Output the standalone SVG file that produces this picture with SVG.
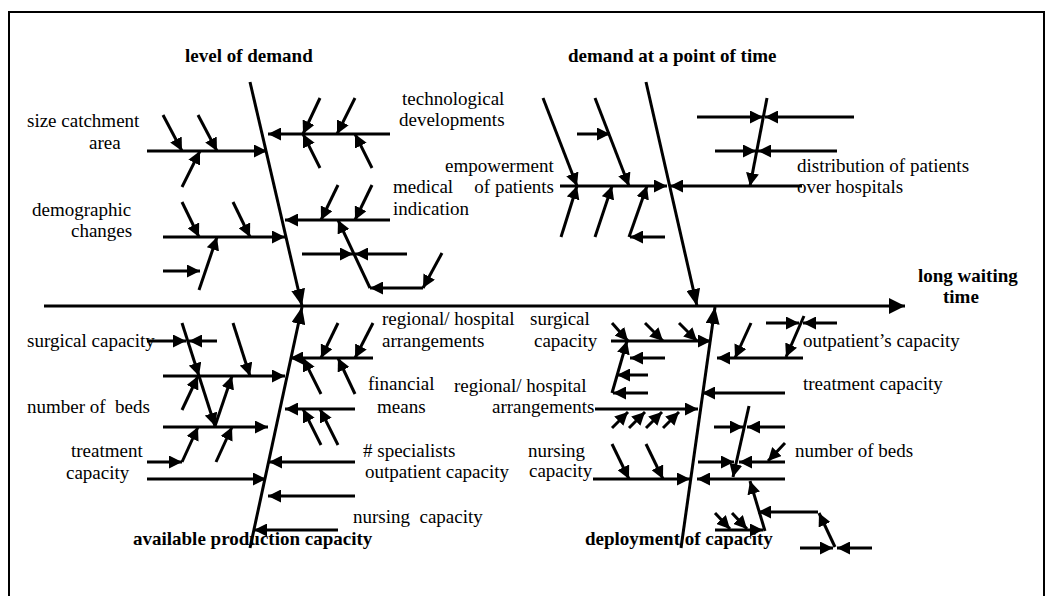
<svg xmlns="http://www.w3.org/2000/svg" width="1057" height="596" viewBox="0 0 1057 596">
<defs>
<style>
.l{stroke:#000;stroke-width:3;fill:none;marker-end:url(#a)}
.b{stroke:#000;stroke-width:3;fill:none;marker-end:url(#big)}
.s{stroke:#000;stroke-width:3;fill:none;marker-end:url(#sp)}
text{font-family:"Liberation Serif","Times New Roman",serif;font-size:19px;fill:#000;white-space:pre}
.h{font-weight:bold}
</style>
<marker id="a" markerUnits="userSpaceOnUse" markerWidth="13" markerHeight="13" refX="13" refY="6.5" orient="auto"><path d="M0,0 L13,6.5 L0,13 z" fill="#000"/></marker>
<marker id="big" markerUnits="userSpaceOnUse" markerWidth="17" markerHeight="14" refX="17" refY="7" orient="auto"><path d="M0,0 L17,7 L0,14 z" fill="#000"/></marker>
<marker id="sp" markerUnits="userSpaceOnUse" markerWidth="16" markerHeight="16" refX="16" refY="8" orient="auto"><path d="M0,0 L16,8 L0,16 z" fill="#000"/></marker>
</defs>
<rect x="0" y="0" width="1057" height="596" fill="#fff"/>
<rect x="9" y="12" width="1035" height="600" fill="none" stroke="#000" stroke-width="2"/>
<g id="connectors">
<line class="s" x1="44" y1="306" x2="905" y2="306"/>
<!-- level of demand -->
<line class="b" x1="250" y1="82" x2="302" y2="306"/>
<line class="l" x1="147" y1="151" x2="267" y2="151"/>
<line class="l" x1="163" y1="115" x2="182" y2="151"/>
<line class="l" x1="198" y1="115" x2="217" y2="151"/>
<line class="l" x1="182" y1="187" x2="200" y2="151"/>
<line class="l" x1="163" y1="237" x2="285" y2="237"/>
<line class="l" x1="182" y1="202" x2="199" y2="237"/>
<line class="l" x1="233" y1="202" x2="250" y2="237"/>
<line class="l" x1="199" y1="290" x2="217" y2="237"/>
<line class="l" x1="163" y1="271" x2="200" y2="271"/>
<line class="l" x1="390" y1="134" x2="268" y2="134"/>
<line class="l" x1="320" y1="98" x2="303" y2="134"/>
<line class="l" x1="355" y1="98" x2="337" y2="134"/>
<line class="l" x1="320" y1="168" x2="303" y2="134"/>
<line class="l" x1="372" y1="168" x2="355" y2="134"/>
<line class="l" x1="390" y1="220" x2="285" y2="220"/>
<line class="l" x1="338" y1="185" x2="321" y2="220"/>
<line class="l" x1="372" y1="185" x2="355" y2="220"/>
<line class="l" x1="442" y1="253" x2="423" y2="288"/>
<line class="l" x1="423" y1="288" x2="370" y2="288"/>
<line class="l" x1="370" y1="288" x2="338" y2="220"/>
<line class="l" x1="302" y1="254" x2="353" y2="254"/>
<line class="l" x1="407" y1="254" x2="355" y2="254"/>
<!-- demand at a point of time -->
<line class="b" x1="646" y1="82" x2="697" y2="306"/>
<line class="l" x1="560" y1="186" x2="667" y2="186"/>
<line class="l" x1="543" y1="98" x2="577" y2="186"/>
<line class="l" x1="595" y1="98" x2="629" y2="186"/>
<line class="l" x1="577" y1="134" x2="610" y2="134"/>
<line class="l" x1="561" y1="237" x2="577" y2="186"/>
<line class="l" x1="595" y1="237" x2="612" y2="186"/>
<line class="l" x1="629" y1="237" x2="647" y2="186"/>
<line class="l" x1="665" y1="237" x2="630" y2="237"/>
<line class="l" x1="802" y1="186" x2="670" y2="186"/>
<line class="l" x1="767" y1="98" x2="750" y2="186"/>
<line class="l" x1="697" y1="117" x2="763" y2="117"/>
<line class="l" x1="854" y1="117" x2="765" y2="117"/>
<line class="l" x1="715" y1="151" x2="756" y2="151"/>
<line class="l" x1="837" y1="151" x2="758" y2="151"/>
<!-- available production capacity -->
<line class="b" x1="250" y1="548" x2="302" y2="307"/>
<line class="l" x1="147" y1="341" x2="186" y2="341"/>
<line class="l" x1="217" y1="341" x2="189" y2="341"/>
<line class="l" x1="182" y1="323" x2="199" y2="376"/>
<line class="l" x1="199" y1="376" x2="215" y2="426"/>
<line class="l" x1="163" y1="376" x2="285" y2="376"/>
<line class="l" x1="233" y1="323" x2="250" y2="376"/>
<line class="l" x1="182" y1="410" x2="198" y2="376"/>
<line class="l" x1="215" y1="426" x2="232" y2="376"/>
<line class="l" x1="163" y1="427" x2="268" y2="427"/>
<line class="l" x1="182" y1="462" x2="198" y2="427"/>
<line class="l" x1="216" y1="462" x2="232" y2="427"/>
<line class="l" x1="147" y1="462" x2="182" y2="462"/>
<line class="l" x1="147" y1="479" x2="266" y2="479"/>
<line class="l" x1="373" y1="358" x2="290" y2="358"/>
<line class="l" x1="338" y1="323" x2="321" y2="358"/>
<line class="l" x1="373" y1="323" x2="355" y2="358"/>
<line class="l" x1="321" y1="394" x2="303" y2="358"/>
<line class="l" x1="355" y1="394" x2="338" y2="358"/>
<line class="l" x1="355" y1="409" x2="285" y2="409"/>
<line class="l" x1="321" y1="445" x2="303" y2="409"/>
<line class="l" x1="338" y1="445" x2="320" y2="409"/>
<line class="l" x1="355" y1="462" x2="269" y2="462"/>
<line class="l" x1="355" y1="496" x2="268" y2="496"/>
<line class="l" x1="338" y1="530" x2="254" y2="530"/>
<!-- deployment of capacity -->
<line class="b" x1="681" y1="548" x2="715" y2="307"/>
<line class="l" x1="611" y1="341" x2="711" y2="341"/>
<line class="l" x1="612" y1="323" x2="628" y2="341"/>
<line class="l" x1="645" y1="323" x2="663" y2="341"/>
<line class="l" x1="679" y1="323" x2="697" y2="341"/>
<line class="l" x1="612" y1="393" x2="627" y2="341"/>
<line class="l" x1="665" y1="358" x2="630" y2="358"/>
<line class="l" x1="648" y1="375" x2="617" y2="375"/>
<line class="l" x1="648" y1="393" x2="613" y2="393"/>
<line class="l" x1="595" y1="409" x2="698" y2="409"/>
<line class="l" x1="612" y1="428" x2="628" y2="412"/>
<line class="l" x1="629" y1="428" x2="645" y2="412"/>
<line class="l" x1="646" y1="428" x2="662" y2="412"/>
<line class="l" x1="663" y1="428" x2="679" y2="412"/>
<line class="l" x1="593" y1="479" x2="690" y2="479"/>
<line class="l" x1="612" y1="444" x2="629" y2="479"/>
<line class="l" x1="646" y1="444" x2="663" y2="479"/>
<line class="l" x1="803" y1="358" x2="717" y2="358"/>
<line class="l" x1="751" y1="323" x2="735" y2="358"/>
<line class="l" x1="766" y1="323" x2="799" y2="323"/>
<line class="l" x1="837" y1="323" x2="803" y2="323"/>
<line class="l" x1="804" y1="316" x2="786" y2="357"/>
<line class="l" x1="785" y1="393" x2="702" y2="393"/>
<line class="l" x1="714" y1="427" x2="743" y2="427"/>
<line class="l" x1="785" y1="427" x2="747" y2="427"/>
<line class="l" x1="749" y1="406" x2="733" y2="477"/>
<line class="l" x1="698" y1="462" x2="734" y2="462"/>
<line class="l" x1="785" y1="462" x2="739" y2="462"/>
<line class="l" x1="785" y1="443" x2="768" y2="461"/>
<line class="l" x1="785" y1="479" x2="697" y2="479"/>
<line class="l" x1="765" y1="531" x2="750" y2="481"/>
<line class="l" x1="818" y1="512" x2="758" y2="512"/>
<line class="l" x1="835" y1="547" x2="819" y2="513"/>
<line class="l" x1="800" y1="548" x2="833" y2="548"/>
<line class="l" x1="872" y1="548" x2="837" y2="548"/>
<line class="l" x1="715" y1="530" x2="763" y2="530"/>
<line class="l" x1="715" y1="513" x2="730" y2="529"/>
<line class="l" x1="732" y1="513" x2="747" y2="529"/>
</g>
<g id="effect"><text class="h" x="918" y="282">long waiting</text><text class="h" x="943" y="303">time</text></g>
<g id="level-of-demand"><text class="h" x="185" y="62">level of demand</text></g>
<g id="demand-at-point"><text class="h" x="568" y="62">demand at a point of time</text></g>
<g id="available-production-capacity"><text class="h" x="133" y="545">available production capacity</text></g>
<g id="deployment-of-capacity"><text class="h" x="585" y="545">deployment of capacity</text></g>
<g id="size-catchment-area"><text x="27" y="127">size catchment</text><text x="89" y="149">area</text></g>
<g id="demographic-changes"><text x="32" y="216">demographic</text><text x="71" y="237">changes</text></g>
<g id="technological-developments"><text x="402" y="105">technological</text><text x="399" y="126">developments</text></g>
<g id="medical-indication"><text x="393" y="193">medical</text><text x="393" y="215">indication</text></g>
<g id="empowerment-of-patients"><text x="445" y="172">empowerment</text><text x="554" y="193" text-anchor="end">of patients</text></g>
<g id="distribution-of-patients"><text x="797" y="172">distribution of patients</text><text x="797" y="193">over hospitals</text></g>
<g id="surgical-capacity-1"><text x="27" y="347">surgical capacity</text></g>
<g id="number-of-beds-1"><text x="27" y="413">number of  beds</text></g>
<g id="treatment-capacity-1"><text x="71" y="457">treatment</text><text x="66" y="479">capacity</text></g>
<g id="regional-arrangements-1"><text x="382" y="325">regional/ hospital</text><text x="382" y="347">arrangements</text></g>
<g id="financial-means"><text x="368" y="390">financial</text><text x="377" y="413">means</text></g>
<g id="specialists-outpatient"><text x="363" y="457"># specialists</text><text x="365" y="478">outpatient capacity</text></g>
<g id="nursing-capacity-1"><text x="353" y="523">nursing  capacity</text></g>
<g id="surgical-capacity-2"><text x="530" y="325">surgical</text><text x="534" y="347">capacity</text></g>
<g id="regional-arrangements-2"><text x="454" y="392">regional/ hospital</text><text x="492" y="413">arrangements</text></g>
<g id="nursing-capacity-2"><text x="528" y="457">nursing</text><text x="529" y="477">capacity</text></g>
<g id="outpatients-capacity"><text x="803" y="347">outpatient’s capacity</text></g>
<g id="treatment-capacity-2"><text x="803" y="390">treatment capacity</text></g>
<g id="number-of-beds-2"><text x="795" y="457">number of beds</text></g>
</svg>
